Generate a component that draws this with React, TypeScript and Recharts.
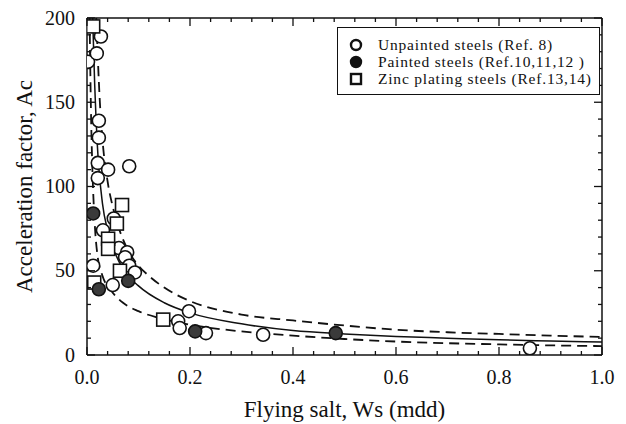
import { ComposedChart, Scatter, Line, XAxis, YAxis, Legend } from 'recharts';

// measured points, [Ws (mdd), Ac]
const unpaintedSteels = [
  [0.002, 174], [0.019, 179], [0.027, 189], [0.023, 139], [0.023, 129],
  [0.021, 114], [0.041, 110], [0.082, 112], [0.021, 105], [0.052, 81],
  [0.031, 74], [0.062, 63.5], [0.078, 61], [0.074, 58], [0.082, 53],
  [0.012, 53], [0.093, 49], [0.05, 41.5], [0.198, 26], [0.177, 20],
  [0.18, 16], [0.231, 13], [0.342, 12], [0.86, 4],
];
const paintedSteels = [
  [0.012, 84], [0.023, 39], [0.08, 44], [0.21, 14], [0.483, 13],
];
const zincSteels = [
  [0.012, 195], [0.068, 89], [0.058, 78], [0.041, 69], [0.041, 63],
  [0.064, 50], [0.014, 43], [0.148, 21],
];

// curves
const meanCurve = [
  [0.011, 200], [0.015, 160], [0.02, 125], [0.03, 90], [0.04, 74], [0.05, 64],
  [0.07, 51], [0.1, 41], [0.15, 31], [0.2, 25], [0.3, 18.5], [0.4, 14.5],
  [0.5, 12.5], [0.6, 11], [0.7, 10], [0.8, 9], [0.9, 8.3], [1.0, 7.7],
];
const upperCurve = [
  [0.018, 200], [0.025, 150], [0.03, 128], [0.04, 103], [0.05, 88], [0.06, 77],
  [0.08, 62], [0.1, 53], [0.12, 47], [0.15, 40], [0.2, 32], [0.3, 24],
  [0.4, 20.5], [0.5, 17.5], [0.6, 15], [0.7, 13.5], [0.8, 12.5], [0.9, 11.5], [1.0, 10.7],
];
const lowerCurve = [
  [0.005, 200], [0.008, 140], [0.01, 115], [0.015, 78], [0.02, 60], [0.03, 47],
  [0.045, 39], [0.07, 31], [0.1, 26], [0.14, 22], [0.2, 18], [0.3, 14],
  [0.4, 11.5], [0.5, 9.5], [0.6, 8], [0.7, 7], [0.8, 6.3], [0.9, 5.7], [1.0, 5.3],
];

const wsTicks = [0, 0.2, 0.4, 0.6, 0.8, 1.0];
const wsMinorTicks = [
  0.04, 0.08, 0.12, 0.16, 0.24, 0.28, 0.32, 0.36, 0.44, 0.48, 0.52, 0.56,
  0.64, 0.68, 0.72, 0.76, 0.84, 0.88, 0.92, 0.96,
];
const acTicks = [0, 50, 100, 150, 200];
const acMinorTicks = [10, 20, 30, 40, 60, 70, 80, 90, 110, 120, 130, 140, 160, 170, 180, 190];

const legendItems = [
  { name: 'Unpainted steels (Ref. 8)', kind: 'open' },
  { name: 'Painted steels (Ref.10,11,12 )', kind: 'painted' },
  { name: 'Zinc plating steels (Ref.13,14)', kind: 'square' },
];

const toPoints = (arr: number[][]) => arr.map(([ws, ac]) => ({ ws, ac }));
const isIn = (list: number[], v: number) => list.some((t) => Math.abs(t - v) < 1e-9);

const FONT = '"Liberation Serif", "Times New Roman", serif';
const INK = '#111';
const MAJOR = 8;
const MINOR = 4;

const OpenCircle = (props: any) => (
  <circle cx={props.cx} cy={props.cy} r={6.5} fill="#fff" stroke={INK} strokeWidth={1.6} />
);
const PaintedCircle = (props: any) => (
  <circle cx={props.cx} cy={props.cy} r={6.5} fill="#3a3a3a" stroke={INK} strokeWidth={1.6} />
);
const OpenSquare = (props: any) => (
  <rect x={props.cx - 6.5} y={props.cy - 6.5} width={13} height={13} fill="#fff" stroke={INK} strokeWidth={1.6} />
);

// inward ticks; label only on the major ones
const BottomTick = ({ x, y, payload }: any) => {
  const major = isIn(wsTicks, payload.value);
  return (
    <g>
      <line x1={x} y1={y} x2={x} y2={y - (major ? MAJOR : MINOR)} stroke={INK} strokeWidth={1.3} />
      {major && (
        <text x={x} y={y + 29} textAnchor="middle" fontFamily={FONT} fontSize={20} fill={INK}>
          {payload.value.toFixed(1)}
        </text>
      )}
    </g>
  );
};
const TopTick = ({ x, y, payload }: any) => {
  const major = isIn(wsTicks, payload.value);
  return <line x1={x} y1={y} x2={x} y2={y + (major ? MAJOR : MINOR)} stroke={INK} strokeWidth={1.3} />;
};
const LeftTick = ({ x, y, payload }: any) => {
  const major = isIn(acTicks, payload.value);
  return (
    <g>
      <line x1={x} y1={y} x2={x + (major ? MAJOR : MINOR)} y2={y} stroke={INK} strokeWidth={1.3} />
      {major && (
        <text x={x - 12} y={y + 6.5} textAnchor="end" fontFamily={FONT} fontSize={20} fill={INK}>
          {payload.value}
        </text>
      )}
    </g>
  );
};
const RightTick = ({ x, y, payload }: any) => {
  const major = isIn(acTicks, payload.value);
  return <line x1={x} y1={y} x2={x - (major ? MAJOR : MINOR)} y2={y} stroke={INK} strokeWidth={1.3} />;
};

const LegendBox = () => (
  <div
    style={{
      border: `1.5px solid ${INK}`,
      background: '#fff',
      padding: '8px 4px 7px 10px',
      fontFamily: FONT,
      fontSize: 15.5,
      letterSpacing: 0.8,
      color: INK,
      lineHeight: '17px',
      boxSizing: 'border-box',
      width: 263,
    }}
  >
    {legendItems.map((item) => (
      <div key={item.name} style={{ display: 'flex', alignItems: 'center', whiteSpace: 'nowrap', height: 17 }}>
        <svg width={16} height={14} style={{ marginRight: 14 }}>
          {item.kind === 'square' ? (
            <rect x={3} y={2} width={10} height={10} fill="#fff" stroke={INK} strokeWidth={2.4} />
          ) : (
            <circle cx={8} cy={7} r={5} fill={item.kind === 'painted' ? INK : '#fff'} stroke={INK} strokeWidth={2.4} />
          )}
        </svg>
        <span>{item.name}</span>
      </div>
    ))}
  </div>
);

const axisLine = { stroke: INK, strokeWidth: 1.5 };
const allWs = [...wsTicks, ...wsMinorTicks].sort((a, b) => a - b);
const allAc = [...acTicks, ...acMinorTicks].sort((a, b) => a - b);

const App = () => {
  return (
    <div style={{ position: 'absolute', left: 0, top: 0, background: '#fff' }}>
      <ComposedChart
        width={626}
        height={424}
        margin={{ top: 17, right: 23, bottom: 0, left: 0 }}
      >
        <XAxis
          xAxisId="x"
          type="number"
          dataKey="ws"
          domain={[0, 1]}
          allowDataOverflow
          height={69}
          ticks={allWs}
          interval={0}
          tickSize={0}
          tickMargin={0}
          tick={BottomTick}
          tickLine={false}
          axisLine={axisLine}
          label={{
            content: ({ viewBox }: any) => (
              <text x={viewBox.x + viewBox.width / 2} y={viewBox.y + 62} textAnchor="middle"
                fontFamily={FONT} fontSize={23} fill={INK}>
                Flying salt, Ws (mdd)
              </text>
            ),
          }}
        />
        <XAxis
          xAxisId="top"
          orientation="top"
          type="number"
          dataKey="ws"
          domain={[0, 1]}
          allowDataOverflow
          height={1}
          ticks={allWs}
          interval={0}
          tickSize={0}
          tickMargin={0}
          tick={TopTick}
          tickLine={false}
          axisLine={axisLine}
        />
        <YAxis
          yAxisId="y"
          type="number"
          dataKey="ac"
          domain={[0, 200]}
          allowDataOverflow
          width={87}
          ticks={allAc}
          interval={0}
          tickSize={0}
          tickMargin={0}
          tick={LeftTick}
          tickLine={false}
          axisLine={axisLine}
          label={{
            content: ({ viewBox }: any) => {
              const cx = 24;
              const cy = viewBox.y + viewBox.height / 2;
              return (
                <text x={cx} y={cy} transform={`rotate(-90 ${cx} ${cy})`} textAnchor="middle"
                  dominantBaseline="central" fontFamily={FONT} fontSize={23} fill={INK}>
                  Acceleration factor, Ac
                </text>
              );
            },
          }}
        />
        <YAxis
          yAxisId="right"
          orientation="right"
          type="number"
          dataKey="ac"
          domain={[0, 200]}
          allowDataOverflow
          width={1}
          ticks={allAc}
          interval={0}
          tickSize={0}
          tickMargin={0}
          tick={RightTick}
          tickLine={false}
          axisLine={axisLine}
        />

        <Legend
          layout="vertical"
          align="center"
          verticalAlign="middle"
          content={() => <LegendBox />}
          wrapperStyle={{ left: 337, top: 27, width: 263, height: 'auto' }}
        />

        <Line xAxisId="x" yAxisId="y" data={toPoints(upperCurve)} dataKey="ac" type="monotone"
          stroke={INK} strokeWidth={1.8} strokeDasharray="10 6" dot={false} legendType="none" isAnimationActive={false} />
        <Line xAxisId="x" yAxisId="y" data={toPoints(meanCurve)} dataKey="ac" type="monotone"
          stroke={INK} strokeWidth={1.5} dot={false} legendType="none" isAnimationActive={false} />
        <Line xAxisId="x" yAxisId="y" data={toPoints(lowerCurve)} dataKey="ac" type="monotone"
          stroke={INK} strokeWidth={1.8} strokeDasharray="10 6" dot={false} legendType="none" isAnimationActive={false} />

        <Scatter xAxisId="x" yAxisId="y" name="Unpainted steels (Ref. 8)" data={toPoints(unpaintedSteels)}
          shape={OpenCircle} isAnimationActive={false} />
        <Scatter xAxisId="x" yAxisId="y" name="Zinc plating steels (Ref.13,14)" data={toPoints(zincSteels)}
          shape={OpenSquare} isAnimationActive={false} />
        <Scatter xAxisId="x" yAxisId="y" name="Painted steels (Ref.10,11,12 )" data={toPoints(paintedSteels)}
          shape={PaintedCircle} isAnimationActive={false} />
      </ComposedChart>
    </div>
  );
};

export default App;
